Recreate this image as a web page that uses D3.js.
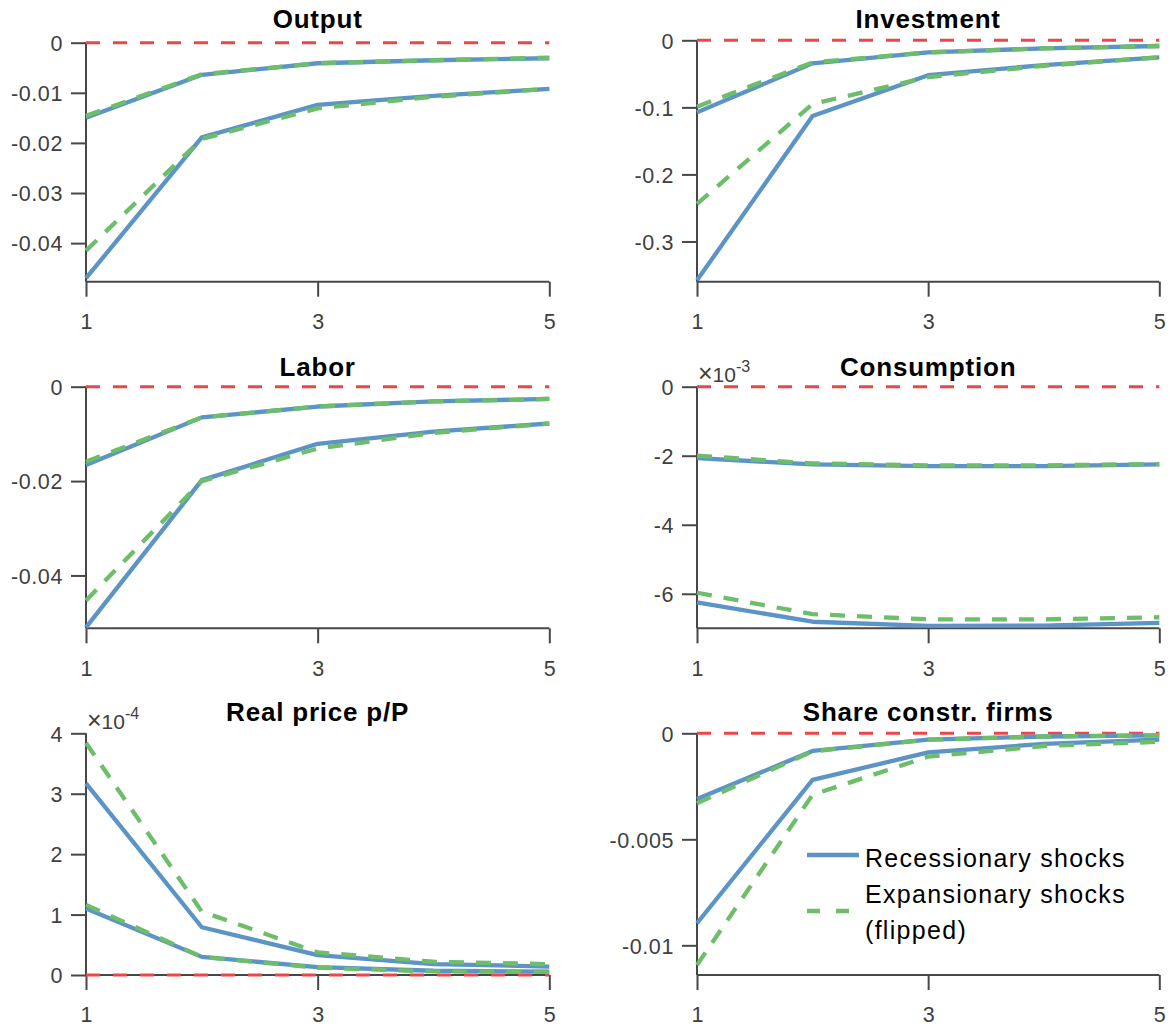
<!DOCTYPE html>
<html>
<head>
<meta charset="utf-8">
<script src="https://cdn.jsdelivr.net/npm/d3@7"></script>
<style>
  html, body { margin: 0; padding: 0; background: #fff; }
  svg { display: block; }
</style>
</head>
<body>
<svg id="chart" width="1174" height="1029"></svg>
<script>
// ---------- DATA ----------
const periods = [1, 2, 3, 4, 5];
const xTicks = [1, 3, 5];

const outputRec = [
  [-0.0150, -0.0064, -0.0041, -0.0035, -0.0031],
  [-0.0470, -0.0189, -0.0124, -0.0106, -0.0092]
];
const outputExp = [
  [-0.0146, -0.0063, -0.0041, -0.0035, -0.0030],
  [-0.0415, -0.0192, -0.0131, -0.0108, -0.0092]
];

const investmentRec = [
  [-0.1075, -0.0343, -0.0180, -0.0120, -0.0085],
  [-0.3580, -0.1130, -0.0520, -0.0370, -0.0254]
];
const investmentExp = [
  [-0.0990, -0.0330, -0.0180, -0.0120, -0.0085],
  [-0.2440, -0.0950, -0.0550, -0.0380, -0.0254]
];

const laborRec = [
  [-0.0166, -0.0065, -0.0042, -0.0031, -0.0026],
  [-0.0510, -0.0198, -0.0121, -0.0095, -0.0078]
];
const laborExp = [
  [-0.0159, -0.0065, -0.0042, -0.0031, -0.0026],
  [-0.0453, -0.0200, -0.0131, -0.0098, -0.0078]
];

const consumptionRec = [
  [-2.07e-3, -2.25e-3, -2.30e-3, -2.30e-3, -2.25e-3],
  [-6.25e-3, -6.81e-3, -6.93e-3, -6.92e-3, -6.84e-3]
];
const consumptionExp = [
  [-2.00e-3, -2.22e-3, -2.28e-3, -2.28e-3, -2.24e-3],
  [-5.97e-3, -6.59e-3, -6.74e-3, -6.74e-3, -6.68e-3]
];

const priceRec = [
  [1.10e-4, 0.30e-4, 0.13e-4, 0.07e-4, 0.055e-4],
  [3.17e-4, 0.79e-4, 0.33e-4, 0.18e-4, 0.14e-4]
];
const priceExp = [
  [1.16e-4, 0.30e-4, 0.12e-4, 0.06e-4, 0.05e-4],
  [3.84e-4, 1.05e-4, 0.375e-4, 0.22e-4, 0.18e-4]
];

const shareRec = [
  [-0.0031, -0.00083, -0.0003, -0.00015, -0.0001],
  [-0.00896, -0.0022, -0.0009, -0.0005, -0.0003]
];
const shareExp = [
  [-0.0033, -0.00085, -0.0003, -0.00015, -0.0001],
  [-0.01093, -0.0029, -0.0011, -0.0006, -0.0004]
];

const titles = ["Output", "Investment", "Labor", "Consumption", "Real price p/P", "Share constr. firms"];
const yDomains = [[-0.0477, 0], [-0.360, 0], [-0.0512, 0], [-7.0e-3, 0], [0, 4e-4], [-0.0114, 0]];
const yTickValues = [
  [-0.04, -0.03, -0.02, -0.01, 0],
  [-0.3, -0.2, -0.1, 0],
  [-0.04, -0.02, 0],
  [-6e-3, -4e-3, -2e-3, 0],
  [0, 1e-4, 2e-4, 3e-4, 4e-4],
  [-0.01, -0.005, 0]
];
const yTickLabels = [
  ["-0.04", "-0.03", "-0.02", "-0.01", "0"],
  ["-0.3", "-0.2", "-0.1", "0"],
  ["-0.04", "-0.02", "0"],
  ["-6", "-4", "-2", "0"],
  ["0", "1", "2", "3", "4"],
  ["-0.01", "-0.005", "0"]
];
const exponents = [null, null, null, "-3", "-4", null];
const legendLabels = ["Recessionary shocks", "Expansionary shocks", "(flipped)"];

const recSeries = [outputRec, investmentRec, laborRec, consumptionRec, priceRec, shareRec];
const expSeries = [outputExp, investmentExp, laborExp, consumptionExp, priceExp, shareExp];

// ---------- LAYOUT ----------
const colX = [[86, 549.3], [697, 1159.3]];
const panelBox = [
  {col: 0, top: 42.7, bottom: 281.7, titleY: 28},
  {col: 1, top: 40.3, bottom: 281.7, titleY: 28},
  {col: 0, top: 386.7, bottom: 628.3, titleY: 376},
  {col: 1, top: 386.7, bottom: 628.3, titleY: 376},
  {col: 0, top: 733.3, bottom: 975, titleY: 721},
  {col: 1, top: 733.3, bottom: 975, titleY: 721}
];

const C = {
  blue: "#5b94c5",
  green: "#6dbd6b",
  red: "#ee4646",
  axis: "#474747",
  text: "#404040"
};
const FONT = "'Liberation Sans', Arial, Helvetica, sans-serif";

const svg = d3.select("#chart");

titles.forEach((title, i) => {
  const b = panelBox[i];
  const [x0, x1] = colX[b.col];
  const x = d3.scaleLinear().domain([1, 5]).range([x0, x1]);
  const y = d3.scaleLinear().domain(yDomains[i]).range([b.bottom, b.top]);
  const g = svg.append("g");

  // title
  g.append("text")
    .attr("x", (x0 + x1) / 2).attr("y", b.titleY)
    .attr("text-anchor", "middle")
    .attr("font-family", FONT).attr("font-size", 26).attr("font-weight", "bold")
    .attr("letter-spacing", 0.8)
    .attr("fill", "#000")
    .text(title);

  // y axis via d3 axis
  const yAxis = d3.axisLeft(y)
    .tickValues(yTickValues[i])
    .tickFormat((d, k) => yTickLabels[i][k])
    .tickSize(15).tickPadding(8);
  const ya = g.append("g").attr("transform", `translate(${x0},0)`).call(yAxis);
  ya.select(".domain").remove();
  ya.selectAll(".tick line").attr("stroke", C.axis).attr("stroke-width", 2);
  ya.selectAll(".tick text")
    .attr("font-family", FONT).attr("font-size", 21.5).attr("fill", C.text)
    .attr("letter-spacing", 0.6).attr("dy", "0.36em");

  // x axis via d3 axis
  const xAxis = d3.axisBottom(x)
    .tickValues(xTicks).tickFormat(d3.format("d"))
    .tickSize(15).tickPadding(17);
  const xa = g.append("g").attr("transform", `translate(0,${b.bottom})`).call(xAxis);
  xa.select(".domain").remove();
  xa.selectAll(".tick line").attr("stroke", C.axis).attr("stroke-width", 2);
  xa.selectAll(".tick text")
    .attr("font-family", FONT).attr("font-size", 21.5).attr("fill", C.text)
    .attr("dy", "0.71em");

  // axis lines (left & bottom)
  g.append("line").attr("x1", x0).attr("x2", x0).attr("y1", b.top).attr("y2", b.bottom)
    .attr("stroke", C.axis).attr("stroke-width", 2);
  g.append("line").attr("x1", x0).attr("x2", x1).attr("y1", b.bottom).attr("y2", b.bottom)
    .attr("stroke", C.axis).attr("stroke-width", 2);

  // exponent label
  if (exponents[i]) {
    const t = g.append("text")
      .attr("x", x0 + 1).attr("y", b.top - 4.5)
      .attr("font-family", FONT).attr("font-size", 21).attr("fill", C.text);
    t.append("tspan").attr("font-size", 25).attr("dy", 0).text("×");
    t.append("tspan").text("10");
    t.append("tspan").attr("font-size", 16).attr("dy", -10).text(exponents[i]);
  }

  // zero line
  g.append("line")
    .attr("x1", x(1)).attr("x2", x(5)).attr("y1", y(0)).attr("y2", y(0))
    .attr("stroke", C.red).attr("stroke-width", 3).attr("stroke-dasharray", "14,13");

  const line = d3.line().x((d, k) => x(periods[k])).y(d => y(d));

  recSeries[i].forEach(s => {
    g.append("path").attr("d", line(s))
      .attr("fill", "none").attr("stroke", C.blue).attr("stroke-width", 4.3)
      .attr("stroke-linejoin", "round");
  });
  expSeries[i].forEach(s => {
    g.append("path").attr("d", line(s))
      .attr("fill", "none").attr("stroke", C.green).attr("stroke-width", 4.3)
      .attr("stroke-dasharray", "15,12");
  });
});

// ---------- LEGEND (in Share panel) ----------
const lg = svg.append("g");
lg.append("line").attr("x1", 807).attr("x2", 859).attr("y1", 855).attr("y2", 855)
  .attr("stroke", C.blue).attr("stroke-width", 4.3);
lg.append("line").attr("x1", 807).attr("x2", 859).attr("y1", 911).attr("y2", 911)
  .attr("stroke", C.green).attr("stroke-width", 4.3).attr("stroke-dasharray", "13,16");
const legendY = [866.5, 903, 939];
legendLabels.forEach((t, k) => {
  lg.append("text").attr("x", 865).attr("y", legendY[k])
    .attr("font-family", FONT).attr("font-size", 25).attr("letter-spacing", 1.3)
    .attr("fill", "#000").text(t);
});
</script>
</body>
</html>
